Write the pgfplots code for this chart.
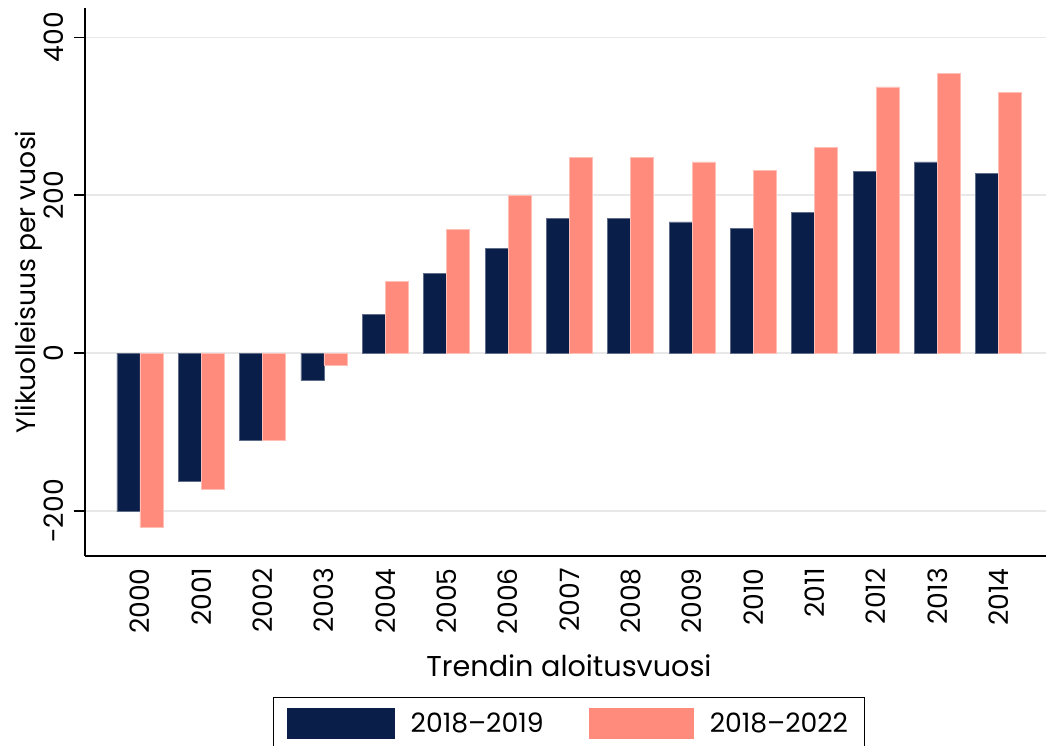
\documentclass[border=0pt]{standalone}
\usepackage{pgfplots}
\pgfplotsset{compat=1.18}
\usepackage{fontspec}
\setmainfont{Poppins}
\definecolor{navy}{RGB}{9,31,74}
\definecolor{salmon}{RGB}{255,139,124}
\definecolor{gridc}{RGB}{232,232,232}
\begin{document}
\begin{tikzpicture}
\begin{axis}[
  scale only axis,
  width=720.75pt, height=411pt,
  xmin=-0.896, xmax=14.77,
  ymin=-257, ymax=437,
  axis x line*=bottom, axis y line*=left,
  axis line style={black, line width=1pt},
  xtick={0,...,14},
  xticklabels={2000,2001,2002,2003,2004,2005,2006,2007,2008,2009,2010,2011,2012,2013,2014},
  xtick style={draw=none},
  xticklabel style={rotate=90, anchor=east, font=\fontsize{20}{22}\selectfont, inner sep=0pt},
  xticklabel shift=1pt,
  ytick={-200,0,200,400},
  yticklabels={-200,0,200,400},
  yticklabel style={rotate=90, anchor=south, font=\fontsize{20}{22}\selectfont, inner sep=0pt},
  yticklabel shift=8pt,
  tick align=outside, major tick length=8pt,
  ytick style={black, line width=1pt},
  ymajorgrids, grid style={gridc, line width=1pt},
  ybar, bar width=0.375,
  legend style={at={(rel axis cs:0.5036,-0.2573)}, anchor=north, legend columns=2,
    draw=black, line width=0.75pt, font=\fontsize{20}{22}\selectfont,
    inner xsep=10pt, inner ysep=8pt,
    /tikz/every even column/.append style={column sep=32pt}},
  legend cell align=left,
]
\coordinate (ll) at (rel axis cs:0,0);
\coordinate (ur) at (rel axis cs:1,1);
\addplot[fill=navy, draw=navy!65!white, line width=0.6pt, bar shift=-0.1875,
  legend image code/.code={\fill[navy] (0pt,-11.25pt) rectangle (80pt,11.25pt); \path (90pt,0pt);}]
  coordinates {(0,-201) (1,-162) (2,-111) (3,-35) (4,49) (5,101) (6,133) (7,170) (8,170) (9,166) (10,158) (11,178) (12,230) (13,242) (14,227)};
\addlegendentry{2018–2019}
\addplot[fill=salmon, draw=salmon!55!white, line width=0.6pt, bar shift=0.1875,
  legend image code/.code={\fill[salmon] (0pt,-11.25pt) rectangle (78pt,11.25pt); \path (88pt,0pt);}]
  coordinates {(0,-221) (1,-173) (2,-110) (3,-15) (4,91) (5,157) (6,200) (7,248) (8,248) (9,242) (10,231) (11,260) (12,337) (13,354) (14,330)};
\addlegendentry{2018–2022}
\end{axis}
\node[rotate=90, anchor=base, font=\fontsize{20}{22}\selectfont] at ([xshift=-37.5pt, yshift=205.5pt]ll) {Ylikuolleisuus per vuosi};
\node[anchor=base, font=\fontsize{21.5}{24}\selectfont] at ([xshift=363pt, yshift=-90pt]ll) {Trendin aloitusvuosi};
\pgfresetboundingbox
\useasboundingbox ([xshift=-63.75pt, yshift=-141.75pt]ll) rectangle ([yshift=6pt]ur);
\end{tikzpicture}
\end{document}
